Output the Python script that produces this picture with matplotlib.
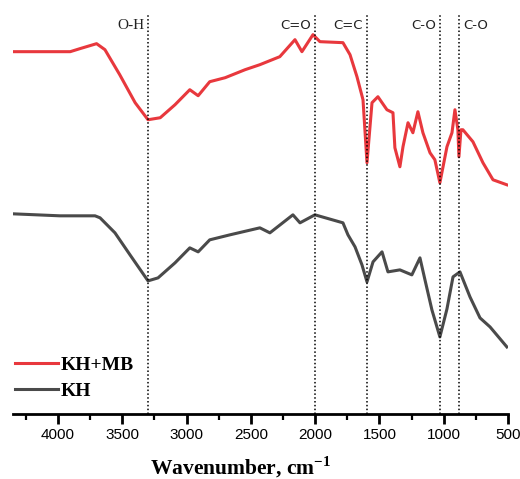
import matplotlib
matplotlib.use("Agg")
import matplotlib.pyplot as plt
from matplotlib.ticker import MultipleLocator

plt.rcParams["mathtext.fontset"] = "custom"
plt.rcParams["mathtext.rm"] = "Liberation Serif:bold"
plt.rcParams["mathtext.bf"] = "Liberation Serif:bold"

# FTIR spectra (transmittance, arbitrary units)
kh_mb_wn = [4350, 3905, 3830, 3700, 3635, 3520, 3400, 3300, 3205, 3090, 2975, 2910,
            2820, 2700, 2545, 2430, 2275, 2157, 2103, 2017, 1963, 1784, 1729, 1675,
            1628, 1597, 1558, 1512, 1442, 1395, 1380, 1341, 1317, 1278, 1240, 1201,
            1162, 1107, 1069, 1030, 975, 936, 913, 890, 882, 866, 851, 773, 695, 617, 509]
kh_mb_t = [362, 362, 365, 370, 364, 339, 311, 294, 296, 309, 324, 318,
           332, 336, 344, 349, 357, 374, 362, 379, 372, 371, 359, 337,
           314, 251, 311, 317, 304, 301, 266, 247, 267, 291, 281, 302,
           281, 261, 254, 231, 267, 281, 304, 284, 257, 284, 284, 272, 251, 234, 229]

kh_wn = [4350, 3985, 3712, 3673, 3557, 3440, 3300, 3222, 3090, 2975, 2910, 2820,
         2663, 2430, 2352, 2173, 2118, 2002, 1784, 1745, 1690, 1636, 1597, 1550,
         1480, 1434, 1341, 1248, 1185, 1146, 1092, 1030, 975, 928, 874, 796, 718, 640, 509]
kh_t = [200, 198, 198, 196, 181, 159, 133, 136, 151, 166, 162, 174,
        179, 186, 181, 199, 191, 199, 191, 179, 167, 149, 132, 152,
        162, 142, 144, 139, 156, 134, 104, 77, 105, 137, 142, 117, 96, 87, 67]

band_wn = [3300, 2000, 1600, 1030, 880]
band_labels = ["O-H", "C=O", "C=C", "C-O", "C-O"]
band_side = ["left", "left", "left", "left", "right"]

series_labels = ["KH+MB", "KH"]
series_colors = ["#e8383d", "#4a4a4a"]

fig = plt.figure(figsize=(5.2, 4.79), dpi=100)
ax = fig.add_axes([0.025, 0.1357, 0.952, 0.84])

ax.plot(kh_mb_wn, kh_mb_t, color=series_colors[0], lw=2.2, label=series_labels[0])
ax.plot(kh_wn, kh_t, color=series_colors[1], lw=2.2, label=series_labels[1])

ax.set_xlim(4350, 500)
ax.set_ylim(0, 402)

for wn, lab, side in zip(band_wn, band_labels, band_side):
    ax.axvline(wn, ymin=0, ymax=0.993, color="black", ls=(0, (1, 1.5)), lw=1.1)
    fam = "Liberation Serif" if lab == "O-H" else "DejaVu Sans"
    fs = 11 if lab == "O-H" else 9.5
    if side == "left":
        ax.text(wn + 30, 388, lab, ha="right", va="center", fontsize=fs,
                family=fam, color="#222222")
    else:
        ax.text(wn - 30, 388, lab, ha="left", va="center", fontsize=fs,
                family=fam, color="#222222")

for s in ["left", "right", "top"]:
    ax.spines[s].set_visible(False)
ax.spines["bottom"].set_linewidth(2)
ax.set_yticks([])
ax.xaxis.set_major_locator(MultipleLocator(500))
ax.xaxis.set_minor_locator(MultipleLocator(250))
ax.tick_params(axis="x", which="major", direction="out", length=7, width=2,
               labelsize=11, pad=3)
ax.tick_params(axis="x", which="minor", direction="out", length=4, width=1.6)
for t in ax.get_xticklabels():
    t.set_family("Liberation Sans")

fig.text(241 / 520, 1 - 467 / 479, "Wavenumber, cm$^{-1}$", ha="center", va="center",
         fontsize=15.5, fontweight="bold", family="Liberation Serif")

leg = ax.legend(loc="lower left", bbox_to_anchor=(-0.012, 0.015), frameon=False,
                prop={"family": "Liberation Serif", "weight": "bold", "size": 14},
                handlelength=2.2, handletextpad=0.15, labelspacing=0.45,
                borderaxespad=0)

fig.savefig("out.png", dpi=100)
